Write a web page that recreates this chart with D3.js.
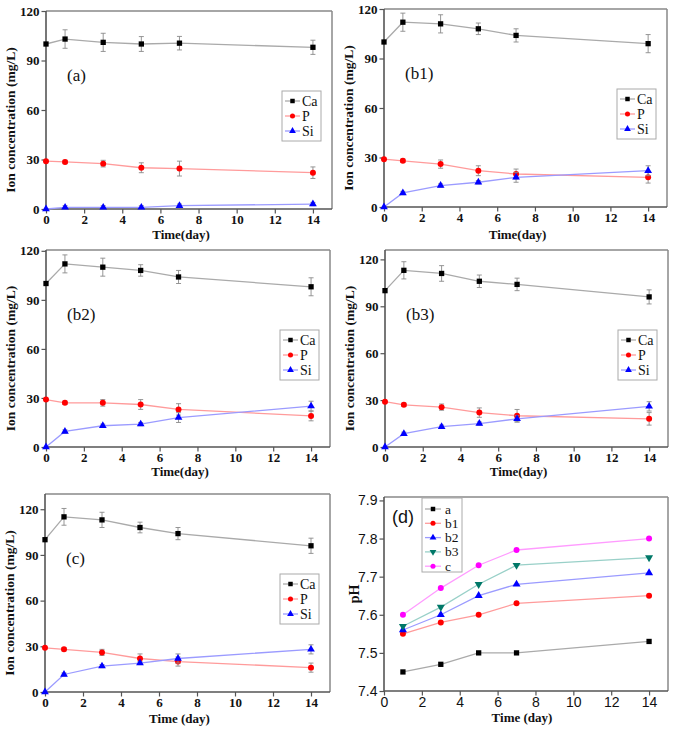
<!DOCTYPE html>
<html><head><meta charset="utf-8">
<script src="https://cdn.jsdelivr.net/npm/d3@7"></script>
<style>body{margin:0;background:#fff}svg{display:block}</style>
</head><body>
<svg id="chart" width="675" height="729"></svg>
<script>
const days = [0, 1, 3, 5, 7, 14];
const seriesNames = ["Ca", "P", "Si"];
// panel (a)
const caA = [100, 103, 101, 100, 100.5, 98], caAErr = [0, 5.6, 5.5, 4.5, 4.1, 4.3];
const pA = [29, 28.5, 27.5, 25, 24.5, 22], pAErr = [0, 1, 2, 3, 4.5, 3.5];
const siA = [0, 1, 1, 1, 2, 3], siAErr = [0, 1, 1, 1, 1, 1];
// panel (b1)
const caB1 = [100, 112, 111, 108, 104, 99], caB1Err = [0, 5.5, 5.5, 3.5, 4, 5.5];
const pB1 = [29, 28, 26, 22, 20, 18], pB1Err = [0, 1, 2.5, 3, 3, 3.5];
const siB1 = [0, 8.5, 13, 15, 18, 22], siB1Err = [0, 1, 1, 1, 3, 3];
// panel (b2)
const caB2 = [100, 112, 110, 108, 104, 98], caB2Err = [0, 5.5, 5.5, 3.5, 4, 5.5];
const pB2 = [29, 27, 27, 26, 23, 19], pB2Err = [0, 1, 2, 3, 3.5, 3];
const siB2 = [0, 9.5, 13, 14, 18, 25], siB2Err = [0, 1, 1, 1, 3, 3];
// panel (b3)
const caB3 = [100, 113, 111, 106, 104, 96], caB3Err = [0, 5.5, 5, 4, 4, 4.5];
const pB3 = [29, 27, 25.5, 22, 20, 18], pB3Err = [0, 1, 2, 3, 4, 4];
const siB3 = [0, 8.5, 13, 15, 18, 26], siB3Err = [0, 1, 1, 1, 2, 3];
// panel (c)
const caC = [100, 115, 113, 108, 104, 96], caCErr = [0, 5.5, 5, 3.5, 4, 5];
const pC = [29, 28, 26, 22, 20, 16], pCErr = [0, 1, 2, 3, 3, 3];
const siC = [0, 11.5, 17, 19, 22, 28], siCErr = [0, 1, 1, 1, 3, 3];
// panel (d) pH
const phDays = [1, 3, 5, 7, 14];
const phNames = ["a", "b1", "b2", "b3", "c"];
const phA = [7.45, 7.47, 7.50, 7.50, 7.53];
const phB1 = [7.55, 7.58, 7.60, 7.63, 7.65];
const phB2 = [7.56, 7.60, 7.65, 7.68, 7.71];
const phB3 = [7.57, 7.62, 7.68, 7.73, 7.75];
const phC = [7.60, 7.67, 7.73, 7.77, 7.80];
const ionTicks = [0, 30, 60, 90, 120];
const dayTicks = [0, 2, 4, 6, 8, 10, 12, 14];
const phTicks = [7.4, 7.5, 7.6, 7.7, 7.8, 7.9];

const svg = d3.select("#chart");
const serif = "'Liberation Serif','Times New Roman',serif";
const sans = "'Liberation Sans',Arial,sans-serif";
const axisCol = "#555", frameCol = "#888";

const ionStyles = [
  {line: "#aaaaaa", fill: "#000000", shape: d3.symbolSquare},
  {line: "#ff9b9b", fill: "#ff0000", shape: d3.symbolCircle},
  {line: "#9b9bff", fill: "#0000ff", shape: d3.symbolTriangle}
];

const ionPanels = [
  {label: "(a)", L: 46, T: 11, R: 332, B: 209, ymax: 120, xt: "Time(day)", xty: 239,
   data: [[caA, caAErr], [pA, pAErr], [siA, siAErr]]},
  {label: "(b1)", L: 384, T: 9, R: 667, B: 207, ymax: 120, xt: "Time(day)", xty: 239,
   data: [[caB1, caB1Err], [pB1, pB1Err], [siB1, siB1Err]]},
  {label: "(b2)", L: 46, T: 250, R: 330, B: 447, ymax: 120.5, xt: "Time(day)", xty: 476,
   data: [[caB2, caB2Err], [pB2, pB2Err], [siB2, siB2Err]]},
  {label: "(b3)", L: 385, T: 250, R: 668, B: 447, ymax: 126, xt: "Time(day)", xty: 476,
   data: [[caB3, caB3Err], [pB3, pB3Err], [siB3, siB3Err]]},
  {label: "(c)", L: 45, T: 494, R: 330, B: 692, ymax: 130, xt: "Time (day)", xty: 723,
   data: [[caC, caCErr], [pC, pCErr], [siC, siCErr]]}
];

function frame(g, p, x, y, xTicks, xMinor, yTicks, yMinor, tickFont, tickSize, tickBold, yFmt) {
  g.append("line").attr("x1", p.L).attr("x2", p.R).attr("y1", p.T).attr("y2", p.T).attr("stroke", frameCol).attr("stroke-width", 1.5);
  g.append("line").attr("x1", p.R).attr("x2", p.R).attr("y1", p.T).attr("y2", p.B).attr("stroke", frameCol).attr("stroke-width", 1.5);
  const gx = g.append("g").attr("transform", `translate(0,${p.B})`);
  gx.call(d3.axisBottom(x).tickValues(xMinor).tickSize(2.5).tickFormat(""));
  gx.call(d3.axisBottom(x).tickValues(xTicks).tickSize(4.5).tickPadding(1.5));
  const gy = g.append("g").attr("transform", `translate(${p.L},0)`);
  gy.call(d3.axisLeft(y).tickValues(yMinor).tickSize(2.5).tickFormat(""));
  gy.call(d3.axisLeft(y).tickValues(yTicks).tickSize(4.5).tickPadding(2).tickFormat(yFmt));
  [gx, gy].forEach(a => {
    a.selectAll("path.domain").attr("stroke", axisCol).attr("stroke-width", 1.6);
    a.selectAll(".tick line").attr("stroke", axisCol).attr("stroke-width", 1.2);
    a.selectAll("text").attr("font-family", tickFont).attr("font-size", tickSize)
      .attr("font-weight", tickBold ? "bold" : "normal").attr("fill", "#111");
  });
  gx.selectAll("path.domain").attr("d", `M${p.L},0H${p.R}`);
  gy.selectAll("path.domain").attr("d", `M0,${p.B}V${p.T}`);
}

ionPanels.forEach(p => {
  const g = svg.append("g");
  const x = d3.scaleLinear().domain([0, 15]).range([p.L, p.R]);
  const y = d3.scaleLinear().domain([0, p.ymax]).range([p.B, p.T]);
  frame(g, p, x, y, dayTicks, [1, 3, 5, 7, 9, 11, 13], ionTicks, [15, 45, 75, 105], serif, 13, true, d3.format("d"));

  p.data.forEach((s, si) => {
    const st = ionStyles[si];
    const vals = s[0], errs = s[1];
    const pts = days.map((d, i) => ({d, v: vals[i], e: errs[i]}));
    g.append("path").datum(pts).attr("fill", "none").attr("stroke", st.line).attr("stroke-width", 1.3)
      .attr("d", d3.line().x(q => x(q.d)).y(q => y(q.v)));
    const eb = g.append("g").attr("stroke", "#8a8a8a").attr("stroke-width", 0.9);
    pts.filter(q => q.e > 0).forEach(q => {
      eb.append("line").attr("x1", x(q.d)).attr("x2", x(q.d)).attr("y1", y(q.v - q.e)).attr("y2", y(q.v + q.e));
      eb.append("line").attr("x1", x(q.d) - 2.5).attr("x2", x(q.d) + 2.5).attr("y1", y(q.v - q.e)).attr("y2", y(q.v - q.e));
      eb.append("line").attr("x1", x(q.d) - 2.5).attr("x2", x(q.d) + 2.5).attr("y1", y(q.v + q.e)).attr("y2", y(q.v + q.e));
    });
    g.selectAll(null).data(pts).enter().append("path")
      .attr("d", d3.symbol().type(st.shape).size(si === 2 ? 26 : 28))
      .attr("transform", q => `translate(${x(q.d)},${y(q.v)})`)
      .attr("fill", st.fill);
  });

  const lx = p.R - 50, ly = p.T + 80;
  g.append("rect").attr("x", lx).attr("y", ly).attr("width", 39).attr("height", 50)
    .attr("fill", "#fff").attr("stroke", "#aaa").attr("stroke-width", 1);
  seriesNames.forEach((n, i) => {
    const st = ionStyles[i];
    const yy = ly + 10 + i * 15;
    g.append("line").attr("x1", lx + 3).attr("x2", lx + 18).attr("y1", yy).attr("y2", yy).attr("stroke", st.line).attr("stroke-width", 1.3);
    g.append("path").attr("d", d3.symbol().type(st.shape).size(20)).attr("transform", `translate(${lx + 10.5},${yy})`).attr("fill", st.fill);
    g.append("text").attr("x", lx + 20).attr("y", yy + 5).text(n)
      .attr("font-family", serif).attr("font-size", 14).attr("fill", "#111");
  });

  g.append("text").attr("x", p.L + 21).attr("y", p.T + 70).text(p.label)
    .attr("font-family", serif).attr("font-size", 17).attr("fill", "#111");
  g.append("text").attr("x", (p.L + p.R) / 2 - 8).attr("y", p.xty).attr("text-anchor", "middle").text(p.xt)
    .attr("font-family", serif).attr("font-size", 13).attr("font-weight", "bold").attr("fill", "#111");
  const cy = (p.T + p.B) / 2 + 10;
  g.append("text").attr("transform", `translate(${p.L - 31},${cy}) rotate(-90)`).attr("text-anchor", "middle")
    .text("Ion concentration (mg/L)")
    .attr("font-family", serif).attr("font-size", 13.5).attr("font-weight", "bold").attr("fill", "#111");
});

(function () {
  const p = {L: 384, T: 497, R: 668, B: 691};
  const g = svg.append("g");
  const x = d3.scaleLinear().domain([0, 15]).range([p.L, p.R]);
  const y = d3.scaleLinear().domain([7.4, 7.909]).range([p.B, p.T]);
  frame(g, p, x, y, dayTicks, [1, 3, 5, 7, 9, 11, 13], phTicks, [7.45, 7.55, 7.65, 7.75, 7.85], sans, 14, false, d3.format(".1f"));
  const styles = [
    {line: "#aaaaaa", fill: "#000000", shape: d3.symbolSquare, rot: 0},
    {line: "#ff9b9b", fill: "#ff0000", shape: d3.symbolCircle, rot: 0},
    {line: "#9b9bff", fill: "#0000ff", shape: d3.symbolTriangle, rot: 0},
    {line: "#99d0c8", fill: "#007868", shape: d3.symbolTriangle, rot: 180},
    {line: "#ff9bff", fill: "#ff00ff", shape: d3.symbolCircle, rot: 0}
  ];
  const sets = [phA, phB1, phB2, phB3, phC];
  sets.forEach((vals, si) => {
    const st = styles[si];
    const pts = phDays.map((d, i) => ({d, v: vals[i]}));
    g.append("path").datum(pts).attr("fill", "none").attr("stroke", st.line).attr("stroke-width", 1.3)
      .attr("d", d3.line().x(q => x(q.d)).y(q => y(q.v)));
    g.selectAll(null).data(pts).enter().append("path")
      .attr("d", d3.symbol().type(st.shape).size(28))
      .attr("transform", q => `translate(${x(q.d)},${y(q.v)}) rotate(${st.rot})`)
      .attr("fill", st.fill);
  });
  const lx = 422, ly = 498;
  g.append("rect").attr("x", lx).attr("y", ly).attr("width", 40).attr("height", 74)
    .attr("fill", "#fff").attr("stroke", "#aaa").attr("stroke-width", 1);
  phNames.forEach((n, i) => {
    const st = styles[i];
    const yy = ly + 11 + i * 14.3;
    g.append("line").attr("x1", lx + 3).attr("x2", lx + 19).attr("y1", yy).attr("y2", yy).attr("stroke", st.line).attr("stroke-width", 1.3);
    g.append("path").attr("d", d3.symbol().type(st.shape).size(20)).attr("transform", `translate(${lx + 11},${yy}) rotate(${st.rot})`).attr("fill", st.fill);
    g.append("text").attr("x", lx + 23).attr("y", yy + 4.5).text(n)
      .attr("font-family", serif).attr("font-size", 13.5).attr("fill", "#111");
  });
  g.append("text").attr("x", 392).attr("y", 523).text("(d)")
    .attr("font-family", sans).attr("font-size", 18).attr("fill", "#111");
  g.append("text").attr("x", (p.L + p.R) / 2 - 4).attr("y", 722).attr("text-anchor", "middle").text("Time (day)")
    .attr("font-family", serif).attr("font-size", 13).attr("font-weight", "bold").attr("fill", "#111");
  g.append("text").attr("transform", `translate(359,${(p.T + p.B) / 2}) rotate(-90)`).attr("text-anchor", "middle")
    .text("pH").attr("font-family", serif).attr("font-size", 14).attr("font-weight", "bold").attr("fill", "#111");
})();
</script>
</body></html>
